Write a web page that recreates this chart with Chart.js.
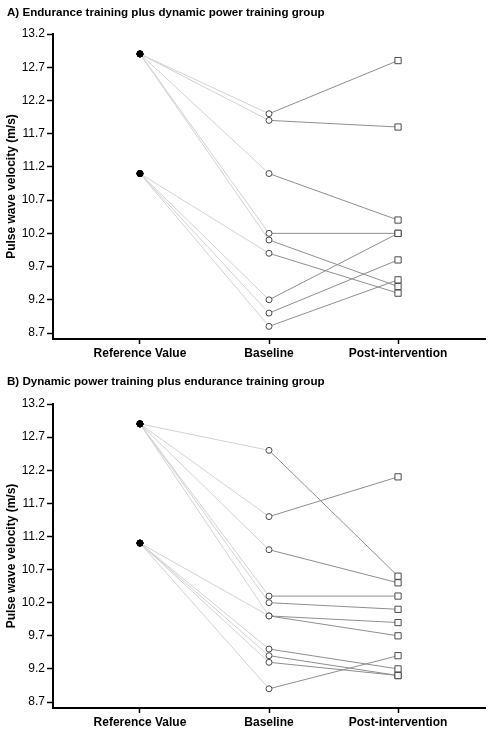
<!DOCTYPE html>
<html>
<head>
<meta charset="utf-8">
<script src="https://cdn.jsdelivr.net/npm/chart.js@4.4.1/dist/chart.umd.min.js"></script>
<style>
  body { margin: 0; background: #fff; }
  #wrap { position: relative; width: 492px; height: 735px; overflow: hidden; }
  .box { position: absolute; left: 0; width: 492px; }
  .title {
    position: absolute; left: 7px;
    font: bold 11.6px "Liberation Sans", Arial, sans-serif; color: #000;
    white-space: nowrap;
  }
</style>
</head>
<body>
<div id="wrap">
  <div class="box" style="top:0;height:365px"><canvas id="chartA" width="492" height="365"></canvas></div>
  <div class="box" style="top:365px;height:370px"><canvas id="chartB" width="492" height="370"></canvas></div>
  <div class="title" style="top:5px">A) Endurance training plus dynamic power training group</div>
  <div class="title" style="top:374px">B) Dynamic power training plus endurance training group</div>
</div>
<script>
'use strict';

// categories & ticks
const categories = ['Reference Value', 'Baseline', 'Post-intervention'];
const yTicks = [8.7, 9.2, 9.7, 10.2, 10.7, 11.2, 11.7, 12.2, 12.7, 13.2];

// A) endurance + dynamic power (one entry per subject)
const refA  = [12.9, 12.9, 12.9, 12.9, 12.9, 11.1, 11.1, 11.1, 11.1];
const baseA = [12.0, 11.9, 11.1, 10.2, 10.1, 9.9, 9.2, 9.0, 8.8];
const postA = [12.8, 11.8, 10.4, 10.2, 9.4, 9.3, 10.2, 9.8, 9.5];

// B) dynamic power + endurance
const refB  = [12.9, 12.9, 12.9, 12.9, 12.9, 12.9, 11.1, 11.1, 11.1, 11.1, 11.1];
const baseB = [12.5, 11.5, 11.0, 10.3, 10.2, 10.0, 10.0, 9.5, 9.4, 9.3, 8.9];
const postB = [10.6, 12.1, 10.5, 10.3, 10.1, 9.9, 9.7, 9.2, 9.1, 9.1, 9.4];

const FONT = "'Liberation Sans', Arial, sans-serif";

/**
  * @name createChart()
  * @description paired plot for one group
  */
function createChart(el, ref, base, post, padTop, xHeight) {
  const datasets = [];

  // subject lines
  ref.forEach(function(r, i) {
    datasets.push({
      type: 'scatter',
      showLine: true,
      data: [{x: 0, y: r}, {x: 1, y: base[i]}, {x: 2, y: post[i]}],
      borderWidth: 1,
      borderColor: '#8e8e8e',
      segment: {
        borderColor: (ctx) => ctx.p0DataIndex === 0 ? '#d2d2d2' : '#8e8e8e'
      },
      pointRadius: 0,
      order: 1
    });
  });

  // markers on top
  datasets.push({
    type: 'scatter',
    data: ref.map((v) => ({x: 0, y: v})),
    pointStyle: 'circle',
    pointRadius: 3,
    backgroundColor: '#000',
    borderColor: '#000',
    borderWidth: 1,
    order: 0
  });
  datasets.push({
    type: 'scatter',
    data: base.map((v) => ({x: 1, y: v})),
    pointStyle: 'circle',
    pointRadius: 3,
    backgroundColor: '#fff',
    borderColor: '#4a4a4a',
    borderWidth: 1,
    order: 0
  });
  datasets.push({
    type: 'scatter',
    data: post.map((v) => ({x: 2, y: v})),
    pointStyle: 'rect',
    pointRadius: 4.4,
    backgroundColor: '#fff',
    borderColor: '#4a4a4a',
    borderWidth: 1,
    order: 0
  });

  return new Chart(document.getElementById(el), {
    type: 'scatter',
    data: { datasets: datasets },
    options: {
      responsive: false,
      animation: false,
      layout: { padding: { top: padTop, right: 7, bottom: 0, left: 0 } },
      scales: {
        x: {
          type: 'linear',
          min: -0.674,
          max: 2.674,
          afterBuildTicks: (scale) => { scale.ticks = categories.map((c, i) => ({value: i})); },
          afterFit: (scale) => { scale.height = xHeight; },
          border: { display: true, color: '#000', width: 2 },
          grid: {
            drawOnChartArea: false,
            drawTicks: true,
            tickLength: 5,
            tickColor: '#000',
            tickWidth: 1.5
          },
          ticks: {
            autoSkip: false,
            maxRotation: 0,
            padding: 2,
            color: '#000',
            font: { family: FONT, size: 12, weight: 'bold' },
            callback: (v) => categories[v]
          }
        },
        y: {
          type: 'linear',
          min: 8.61,
          max: 13.2,
          afterBuildTicks: (scale) => { scale.ticks = yTicks.map((v) => ({value: v})); },
          afterFit: (scale) => { scale.width = 53; },
          border: { display: true, color: '#000', width: 2 },
          grid: {
            drawOnChartArea: false,
            drawTicks: true,
            tickLength: 6,
            tickColor: '#000',
            tickWidth: 1.5
          },
          ticks: {
            padding: 2,
            color: '#000',
            font: { family: FONT, size: 12 },
            callback: (v) => v.toFixed(1)
          },
          title: {
            display: true,
            text: 'Pulse wave velocity (m/s)',
            color: '#000',
            font: { family: FONT, size: 12, weight: 'bold' },
            padding: { top: 4, bottom: 0 }
          }
        }
      },
      plugins: {
        legend: { display: false },
        tooltip: { enabled: false },
        title: { display: false }
      }
    }
  });
}

createChart('chartA', refA, baseA, postA, 34, 26);
createChart('chartB', refB, baseB, postB, 39, 27);
</script>
</body>
</html>
